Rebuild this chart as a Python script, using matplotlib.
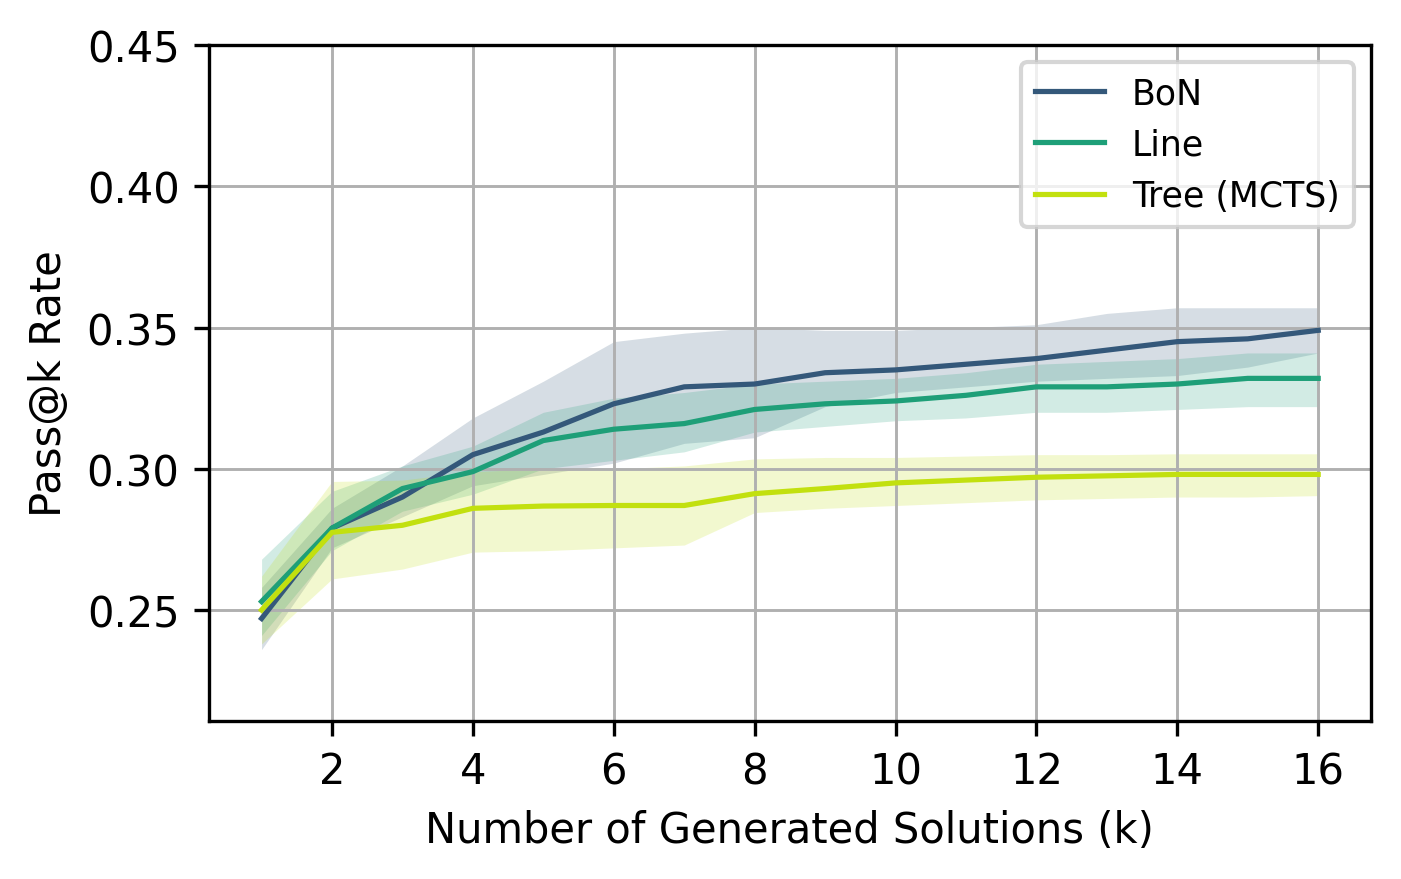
import numpy as np
import matplotlib
matplotlib.use("Agg")
import matplotlib.pyplot as plt

# k = number of generated solutions
k = np.arange(1, 17)

bon_mean = [0.247, 0.279, 0.290, 0.305, 0.313, 0.323, 0.329, 0.330,
            0.334, 0.335, 0.337, 0.339, 0.342, 0.345, 0.346, 0.349]
bon_low = [0.236, 0.272, 0.283, 0.294, 0.298, 0.302, 0.309, 0.311,
           0.322, 0.327, 0.329, 0.331, 0.332, 0.333, 0.336, 0.341]
bon_high = [0.258, 0.286, 0.301, 0.318, 0.331, 0.345, 0.348, 0.350,
            0.349, 0.349, 0.350, 0.351, 0.355, 0.357, 0.357, 0.357]

line_mean = [0.253, 0.279, 0.293, 0.299, 0.310, 0.314, 0.316, 0.321,
             0.323, 0.324, 0.326, 0.329, 0.329, 0.330, 0.332, 0.332]
line_low = [0.241, 0.271, 0.285, 0.291, 0.300, 0.303, 0.306, 0.313,
            0.315, 0.317, 0.318, 0.320, 0.320, 0.321, 0.322, 0.322]
line_high = [0.268, 0.292, 0.301, 0.308, 0.320, 0.325, 0.327, 0.330,
             0.331, 0.332, 0.334, 0.337, 0.338, 0.339, 0.341, 0.341]

tree_mean = [0.250, 0.2775, 0.280, 0.286, 0.2868, 0.287, 0.287, 0.2912,
             0.293, 0.295, 0.296, 0.297, 0.2975, 0.298, 0.298, 0.298]
tree_low = [0.238, 0.261, 0.2645, 0.2705, 0.271, 0.272, 0.273, 0.2845,
            0.286, 0.287, 0.288, 0.289, 0.2895, 0.290, 0.290, 0.2905]
tree_high = [0.262, 0.2955, 0.296, 0.299, 0.300, 0.300, 0.301, 0.3035,
             0.304, 0.304, 0.3045, 0.305, 0.305, 0.3053, 0.3053, 0.3053]

SERIES = [
    ("BoN", bon_mean, bon_low, bon_high, "#34587a"),
    ("Line", line_mean, line_low, line_high, "#1e9f78"),
    ("Tree (MCTS)", tree_mean, tree_low, tree_high, "#c2e00f"),
]

plt.rcParams["font.family"] = ["DejaVu Sans"]
fig = plt.figure(figsize=(4.67, 2.9333), dpi=300)
ax = fig.add_axes([0.149, 0.1795, 0.8296, 0.7682])

for name, m, lo, hi, col in SERIES:
    ax.fill_between(k, lo, hi, color=col, alpha=0.2, linewidth=0)
    ax.plot(k, m, color=col, lw=1.25, label=name)

ax.set_ylim(0.2107, 0.45)
ax.set_xticks(range(2, 17, 2))
ax.set_yticks([0.25, 0.30, 0.35, 0.40, 0.45])
ax.grid(True, color="#b0b0b0", lw=0.7)
ax.set_xlabel("Number of Generated Solutions (k)")
ax.set_ylabel("Pass@k Rate")
ax.legend(loc="upper right", fontsize="small")

fig.savefig("out.png", dpi=300)
